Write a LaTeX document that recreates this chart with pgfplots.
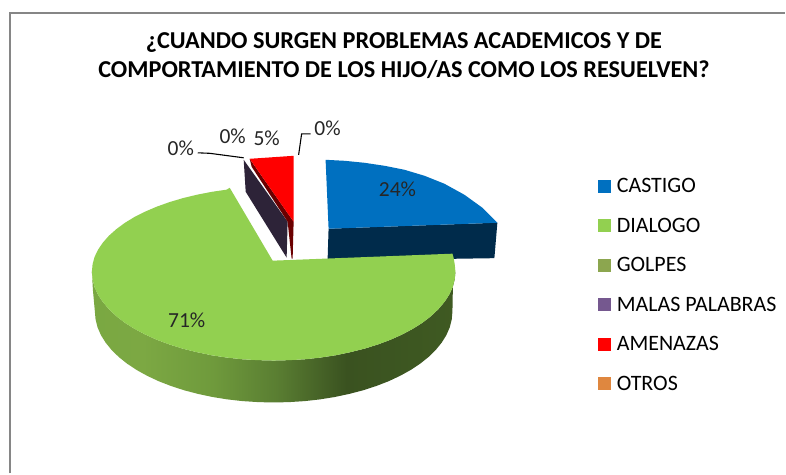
\documentclass[border=0pt]{standalone}
\usepackage{pgfplots}
\pgfplotsset{compat=1.18}
\usepackage{fontspec}
\setmainfont{Carlito}
\definecolor{cblue}{HTML}{0070C0}
\definecolor{cbluedk}{HTML}{002B4B}
\definecolor{cgreen}{HTML}{92D050}
\definecolor{cgolpes}{HTML}{8CA64F}
\definecolor{cpurple}{HTML}{75588F}
\definecolor{cpurpledk}{HTML}{2D2338}
\definecolor{cred}{HTML}{FF0000}
\definecolor{creddk}{HTML}{6B0000}
\definecolor{corange}{HTML}{DF873F}
\definecolor{cframe}{HTML}{868686}
\definecolor{gsA}{HTML}{7AA842}
\definecolor{gsB}{HTML}{7CA843}
\definecolor{gsC}{HTML}{6F9A3C}
\definecolor{gsD}{HTML}{5A7E32}
\definecolor{gsE}{HTML}{3A5220}
\definecolor{gsF}{HTML}{3F5A22}
\pgfdeclarehorizontalshading{greenside}{100bp}{
 color(0bp)=(gsA);
 color(25bp)=(gsA);
 color(32bp)=(gsB);
 color(41.6bp)=(gsC);
 color(50.4bp)=(gsD);
 color(60bp)=(gsE);
 color(75bp)=(gsF);
 color(100bp)=(gsF)}
\begin{document}
\begin{tikzpicture}
\begin{axis}[
  scale only axis, width=786pt, height=474pt,
  xmin=0, xmax=786, ymin=0, ymax=474, y dir=reverse,
  hide axis, clip=false,
  slice/.style={forget plot, draw=none, mark=none},
  legend cell align=left,
  legend style={at={(axis cs:598.5,178)}, anchor=north west, draw=none, fill=none,
    font=\fontsize{22}{22}\selectfont, row sep=23.5pt, column sep=5.5pt, inner sep=0pt,
    nodes={inner sep=1pt, text height=14pt, text depth=0pt}},
  legend image code/.code={\fill[#1] (0pt,-6pt) rectangle (12pt,6pt);},
]
% page
\addplot[slice, fill=white] coordinates {(0,0)(786,0)(786,474)(0,474)};
% frame
\addplot[forget plot, color=cframe, line width=2pt, mark=none] coordinates {(10,474)(10,13)(786,13)};

% legend
\addlegendimage{cblue}\addlegendentry{CASTIGO}
\addlegendimage{cgreen}\addlegendentry{DIALOGO}
\addlegendimage{cgolpes}\addlegendentry{GOLPES}
\addlegendimage{cpurple}\addlegendentry{MALAS PALABRAS}
\addlegendimage{cred}\addlegendentry{AMENAZAS}
\addlegendimage{corange}\addlegendentry{OTROS}

% CASTIGO
\addplot[slice, fill=cbluedk] coordinates {(329,229)(498,223)(495,258.5)(328,261)};
\addplot[slice, fill=cblue] coordinates {(326,160)(345,161)(365,163)(385,166)(405,170)(425,176)(445,184)(465,195)(483,208)(498,223)(329,229)};
% MALAS PALABRAS
\addplot[slice, fill=cpurpledk] coordinates {(244,160)(246,192)(287,258)(288,222)};
% AMENAZAS
\addplot[slice, fill=creddk] coordinates {(250,159)(294,222)(293,259)(292,259)(288,222)(252,167)};
\addplot[slice, fill=cred] coordinates {(250,159)(294,156)(294,222)};
% DIALOGO side
\addplot[slice, shading=greenside] coordinates {
(456,272)(455.3,279.7)(453.3,287.5)(449.8,295.1)(445,302.4)(438.9,309.6)(431.6,316.5)(423.1,323.1)(413.4,329.2)(402.7,334.9)(391,340.2)(378.4,344.9)(365,349.1)(350.9,352.6)(336.2,355.7)(321.1,358)(305.6,359.7)(289.9,360.6)(274,361)(258.1,360.6)(242.4,359.7)(226.9,358)(211.8,355.7)(197.1,352.6)(183,349.1)(169.6,344.9)(157,340.2)(145.3,334.9)(134.6,329.2)(124.9,323.1)(116.4,316.5)(109.1,309.6)(103,302.4)(98.2,295.1)(94.7,287.5)(92.7,279.7)(92,272)
(93,290)(95,312)
(95.7,319.9)(97.7,327.8)(101.1,335.6)(105.8,343.1)(111.8,350.5)(119,357.5)(127.4,364.2)(136.9,370.5)(147.4,376.3)(158.9,381.7)(171.3,386.5)(184.5,390.8)(198.3,394.4)(212.8,397.5)(227.7,399.9)(242.9,401.6)(258.4,402.6)(274,403)(289.6,402.6)(305.1,401.6)(320.3,399.9)(335.2,397.5)(349.7,394.4)(363.5,390.8)(376.7,386.5)(389.1,381.7)(400.6,376.3)(411.1,370.5)(420.6,364.2)(429,357.5)(436.2,350.5)(442.2,343.1)(446.9,335.6)(450.3,327.8)(452.3,319.9)(453,312)
(453.5,285)};
% DIALOGO top
\addplot[slice, fill=cgreen] coordinates {
(273,261)(453,254)(454,257.2)(455.3,264.6)
(456,272)(455.3,279.7)(453.3,287.5)(449.8,295.1)(445,302.4)(438.9,309.6)(431.6,316.5)(423.1,323.1)(413.4,329.2)(402.7,334.9)(391,340.2)(378.4,344.9)(365,349.1)(350.9,352.6)(336.2,355.7)(321.1,358)(305.6,359.7)(289.9,360.6)(274,361)(258.1,360.6)(242.4,359.7)(226.9,358)(211.8,355.7)(197.1,352.6)(183,349.1)(169.6,344.9)(157,340.2)(145.3,334.9)(134.6,329.2)(124.9,323.1)(116.4,316.5)(109.1,309.6)(103,302.4)(98.2,295.1)(94.7,287.5)(92.7,279.7)(92,272)
(92.7,264.6)(94.7,257.2)(98.2,250)(103,242.9)(109.1,236)(116.4,229.5)(124.9,223.2)(134.6,217.3)(145.3,211.9)(157,206.9)(169.6,202.4)(183,198.4)(197.1,195)(211.8,192.1)(226.9,189.9)(230,188)};
% leader lines
\addplot[forget plot, black, line width=1.1pt, mark=none] coordinates {(198,153)(210,153.5)(244,158)};
\addplot[forget plot, black, line width=1.1pt, mark=none] coordinates {(311,134)(302,134)(299,155)};
% texts
\node[font=\fontsize{21.5}{21.5}\selectfont, text=black!85] at (axis cs:181,148) {0\%};
\node[font=\fontsize{21.5}{21.5}\selectfont, text=black!85] at (axis cs:233,136) {0\%};
\node[font=\fontsize{21.5}{21.5}\selectfont, text=black!85] at (axis cs:267,138) {5\%};
\node[font=\fontsize{21.5}{21.5}\selectfont, text=black!85] at (axis cs:328,128) {0\%};
\node[font=\fontsize{21.5}{21.5}\selectfont, text=black!85] at (axis cs:398,189) {24\%};
\node[font=\fontsize{21.5}{21.5}\selectfont, text=black!85] at (axis cs:187,321) {71\%};
\node[font=\fontsize{24.3}{29}\selectfont\bfseries, align=center] at (axis cs:404.5,56) {¿CUANDO SURGEN PROBLEMAS ACADEMICOS Y DE\\COMPORTAMIENTO DE LOS HIJO/AS COMO LOS RESUELVEN?};
\end{axis}
\end{tikzpicture}
\end{document}
